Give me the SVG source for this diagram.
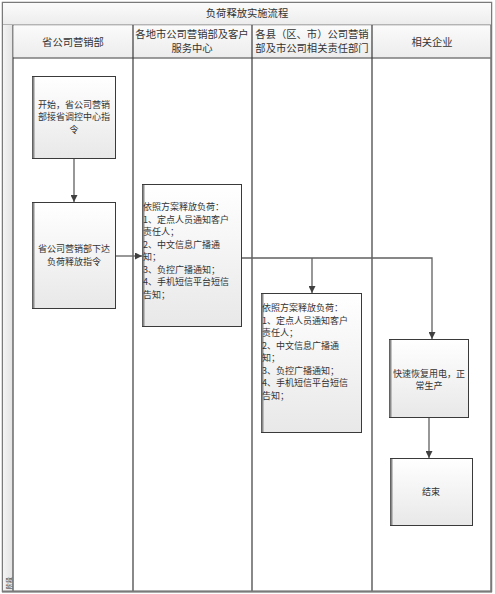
<svg xmlns="http://www.w3.org/2000/svg" width="495" height="594" viewBox="0 0 495 594">
<defs>
<linearGradient id="gBox" x1="0" y1="0" x2="0" y2="1"><stop offset="0" stop-color="#ffffff"/><stop offset="1" stop-color="#e8e8e8"/></linearGradient>
<linearGradient id="gHead" x1="0" y1="0" x2="0" y2="1"><stop offset="0" stop-color="#fbfbfb"/><stop offset="1" stop-color="#ececec"/></linearGradient>
<linearGradient id="gSide" x1="0" y1="0" x2="1" y2="0"><stop offset="0" stop-color="#f4f4f4"/><stop offset="1" stop-color="#e2e2e2"/></linearGradient>
<marker id="arr" viewBox="0 0 10 10" refX="10" refY="5" markerWidth="7" markerHeight="7" orient="auto" markerUnits="userSpaceOnUse"><path d="M0,0 L10,5 L0,10 z" fill="#404040"/></marker>
</defs>
<style>
text{font-family:"Noto Sans CJK SC","Noto Sans",sans-serif;fill:#333;}
.h{font-size:10.3px;text-anchor:middle;}
.b{font-size:9px;}
.c{text-anchor:middle;}
.box{fill:url(#gBox);stroke:#3a3a3a;stroke-width:1;}
.sh{stroke:#8a8a8a;stroke-width:2;}
.ln{stroke:#3a3a3a;stroke-width:1.2;fill:none;}
.cn{stroke:#606060;stroke-width:1.3;fill:none;}
</style>
<g id="frame">
<rect x="2.5" y="2.5" width="489" height="589" fill="#ffffff" stroke="#7a7a7a" stroke-width="1.5"/>
<rect x="3" y="3" width="488" height="22" fill="url(#gHead)"/>
<line x1="2.5" y1="25" x2="491.5" y2="25" stroke="#7a7a7a" stroke-width="1"/>
<rect x="3" y="25" width="10" height="566" fill="url(#gSide)"/>
<line x1="13" y1="25" x2="13" y2="591" stroke="#6a6a6a" stroke-width="1.5"/>
<rect x="13.5" y="25.5" width="477" height="32" fill="url(#gHead)"/>
<line x1="13" y1="58" x2="491" y2="58" class="ln"/>
<line x1="133" y1="25" x2="133" y2="591" class="ln"/>
<line x1="252" y1="25" x2="252" y2="591" class="ln"/>
<line x1="372" y1="25" x2="372" y2="591" class="ln"/>
<line x1="491" y1="25" x2="491" y2="591" stroke="#7a7a7a" stroke-width="1.5"/>
<line x1="2" y1="591.5" x2="492" y2="591.5" stroke="#7a7a7a" stroke-width="2"/>
<text class="h" x="247" y="17">负荷释放实施流程</text>
<text class="h" x="73" y="46">省公司营销部</text>
<text class="h" x="192" y="38">各地市公司营销部及客户</text>
<text class="h" x="192" y="52">服务中心</text>
<text class="h" x="312" y="38">各县（区、市）公司营销</text>
<text class="h" x="312" y="52">部及市公司相关责任部门</text>
<text class="h" x="432" y="46">相关企业</text>
<text x="0" y="0" style="font-size:6px;text-anchor:middle" transform="translate(10.5,583) rotate(-90)">阶段</text>
</g>
<g id="connectors">
<line class="cn" x1="74" y1="159" x2="74" y2="202" marker-end="url(#arr)"/>
<line class="cn" x1="116" y1="256" x2="142" y2="256" marker-end="url(#arr)"/>
<polyline class="cn" points="241,258 432,258 432,339" marker-end="url(#arr)"/>
<line class="cn" x1="312" y1="258" x2="312" y2="293" marker-end="url(#arr)"/>
<line class="cn" x1="429" y1="418" x2="429" y2="458" marker-end="url(#arr)"/>
</g>
<g id="n1">
<rect class="box" x="32.5" y="76.5" width="83" height="82"/>
<line class="sh" x1="33.5" y1="77" x2="33.5" y2="158"/>
<text class="b c" x="74" y="107.5">开始，省公司营销</text>
<text class="b c" x="74" y="120">部接省调控中心指</text>
<text class="b c" x="74" y="132.5">令</text>
</g>
<g id="n2">
<rect class="box" x="32.5" y="202.5" width="83" height="106"/>
<line class="sh" x1="33.5" y1="203" x2="33.5" y2="308"/>
<text class="b c" x="74" y="252">省公司营销部下达</text>
<text class="b c" x="74" y="265">负荷释放指令</text>
</g>
<g id="n3">
<rect class="box" x="142.5" y="184.5" width="99" height="142"/>
<line class="sh" x1="143.5" y1="185" x2="143.5" y2="326"/>
<text class="b" x="143" y="210">依照方案释放负荷：</text>
<text class="b" x="143" y="222.5">1、定点人员通知客户</text>
<text class="b" x="143" y="235">责任人；</text>
<text class="b" x="143" y="247.5">2、中文信息广播通</text>
<text class="b" x="143" y="260">知；</text>
<text class="b" x="143" y="272.5">3、负控广播通知；</text>
<text class="b" x="143" y="285">4、手机短信平台短信</text>
<text class="b" x="143" y="297.5">告知；</text>
</g>
<g id="n4">
<rect class="box" x="261.5" y="293.5" width="100" height="139"/>
<line class="sh" x1="262.5" y1="294" x2="262.5" y2="432"/>
<text class="b" x="262" y="311">依照方案释放负荷：</text>
<text class="b" x="262" y="323.5">1、定点人员通知客户</text>
<text class="b" x="262" y="336">责任人；</text>
<text class="b" x="262" y="348.5">2、中文信息广播通</text>
<text class="b" x="262" y="361">知；</text>
<text class="b" x="262" y="373.5">3、负控广播通知；</text>
<text class="b" x="262" y="386">4、手机短信平台短信</text>
<text class="b" x="262" y="398.5">告知；</text>
</g>
<g id="n5">
<rect class="box" x="389.5" y="339.5" width="79" height="78"/>
<line class="sh" x1="390.5" y1="340" x2="390.5" y2="417"/>
<text class="b c" x="429" y="376.5">快速恢复用电，正</text>
<text class="b c" x="429" y="389">常生产</text>
</g>
<g id="n6">
<rect class="box" x="390.5" y="458.5" width="82" height="67"/>
<line class="sh" x1="391.5" y1="459" x2="391.5" y2="525"/>
<text class="b c" x="431" y="495">结束</text>
</g>
</svg>
